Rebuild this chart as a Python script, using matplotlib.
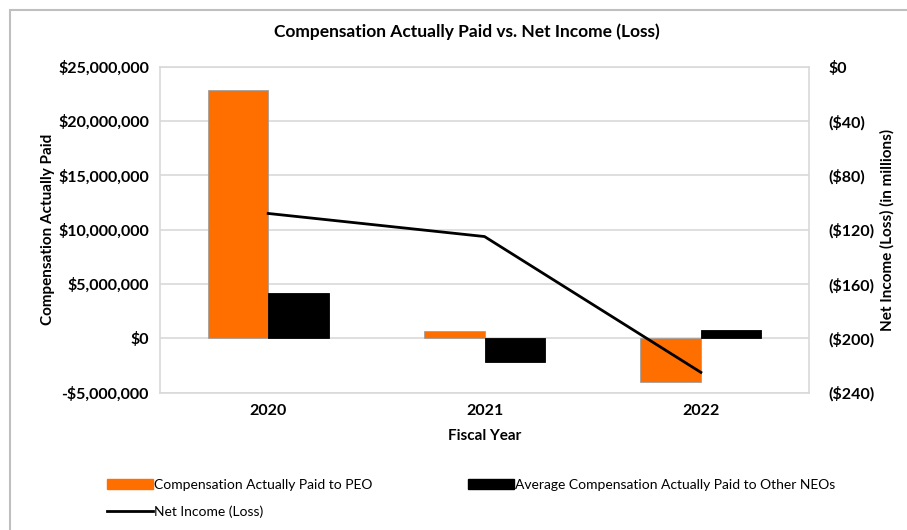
import numpy as np
import matplotlib as mpl
mpl.use('Agg')
import matplotlib.pyplot as plt
from matplotlib.patches import Rectangle, Patch
from matplotlib.lines import Line2D
from matplotlib.ticker import FuncFormatter

plt.rcParams['font.family'] = ['Lato', 'DejaVu Sans']

# data
years = ['2020', '2021', '2022']
peo_cap = [22_900_000, 650_000, -4_000_000]
neo_cap = [4_200_000, -2_200_000, 800_000]
net_income = [-108, -125, -225]   # in millions

orange = '#FF6F00'
grid_col = '#D9D9D9'

fig = plt.figure(figsize=(9.07, 5.30), dpi=100)
ax = fig.add_axes([0.1764, 0.259, 0.7156, 0.615])

x = np.arange(len(years))
w = 0.28
ax.bar(x - w/2, peo_cap, w, color=orange, edgecolor='#A0A0A0', linewidth=0.6, zorder=2)
ax.bar(x + w/2, neo_cap, w, color='black', edgecolor='black', linewidth=0.6, zorder=2)

ax.set_xlim(-0.5, 2.5)
ax.set_ylim(-5_000_000, 25_000_000)
ax.set_yticks(np.arange(-5_000_000, 25_000_001, 5_000_000))
ax.yaxis.set_major_formatter(FuncFormatter(
    lambda v, p: ('-$' if v < 0 else '$') + f'{abs(int(v)):,}'))
ax.set_xticks(x)
ax.set_xticklabels(years)
ax.grid(axis='y', color=grid_col, linewidth=1.2, zorder=0)
ax.set_axisbelow(True)
for s in ax.spines.values():
    s.set_color(grid_col)
    s.set_linewidth(1.2)
ax.tick_params(length=0, labelsize=11.5, pad=8)
for lbl in ax.get_yticklabels() + ax.get_xticklabels():
    lbl.set_fontweight('bold')
ax.set_xlabel('Fiscal Year', fontsize=11, fontweight='bold', labelpad=8)
ax.set_ylabel('Compensation Actually Paid', fontsize=11, fontweight='bold', labelpad=2)

ax2 = ax.twinx()
ax2.plot(x, net_income, color='black', linewidth=2, zorder=3)
ax2.set_ylim(-240, 0)
ax2.set_yticks(np.arange(-240, 1, 40))
ax2.yaxis.set_major_formatter(FuncFormatter(
    lambda v, p: f'(${abs(int(v))})' if v < 0 else '$0'))
ax2.tick_params(length=0, labelsize=11.5, pad=14)
for lbl in ax2.get_yticklabels():
    lbl.set_fontweight('bold')
for s in ax2.spines.values():
    s.set_visible(False)
ax2.set_ylabel('Net Income (Loss) (in millions)', fontsize=11, fontweight='bold', labelpad=4)

fig.suptitle('Compensation Actually Paid vs. Net Income (Loss)', x=0.515, y=0.955,
             fontsize=12.5, fontweight='bold')

handles = [Patch(facecolor=orange, edgecolor=orange),
           Line2D([], [], color='black', linewidth=2),
           Patch(facecolor='black', edgecolor='black')]
labels = ['Compensation Actually Paid to PEO', 'Net Income (Loss)',
          'Average Compensation Actually Paid to Other NEOs']
fig.legend(handles, labels, ncol=2, loc='upper left', bbox_to_anchor=(0.110, 0.11),
           frameon=False, fontsize=10, handlelength=3.3, handleheight=0.7,
           handletextpad=0.1, columnspacing=6.9, labelspacing=1.05, borderpad=0)

# outer frame
fig.patches.append(Rectangle((10/907, -0.1), 1, 1 - 10/530 + 0.1, transform=fig.transFigure,
                             fill=False, edgecolor='#BFBFBF', linewidth=1.5))

fig.savefig('out.png', dpi=100)
